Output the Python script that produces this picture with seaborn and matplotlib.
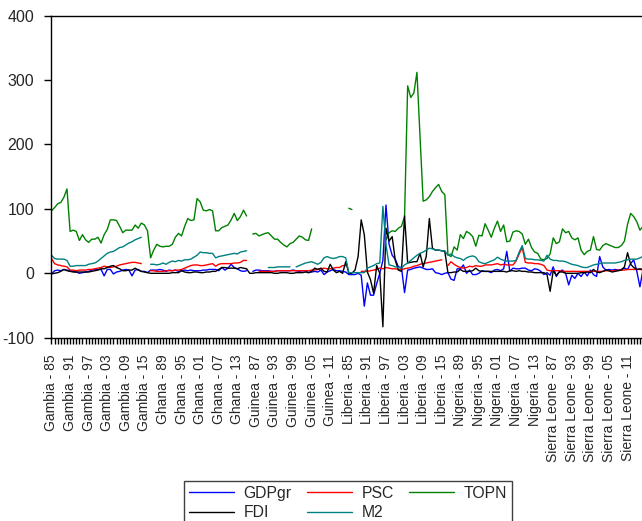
import numpy as np
import pandas as pd
import matplotlib
matplotlib.use("Agg")
import matplotlib.pyplot as plt
import seaborn as sns
from matplotlib.lines import Line2D

nan = np.nan

COUNTRIES = ["Gambia", "Ghana", "Guinea", "Liberia", "Nigeria", "Sierra Leone"]
YEARS = list(range(1985, 2017))

# --- series values, one block of 32 years per country (1985-2016) ---
GDPGR = (
    [-1, 4, 5, 4, 6, 5, 4, 3, 2, 0, 1, 2, 3, 5, 6, 6, 6, -4, 6, 6, -1, 2, 3, 5, 6, 5, -4, 5, 6, 3, 3, 1]            # Gambia
    + [5, 5, 5, 6, 5, 3, 5, 4, 5, 3, 4, 5, 4, 5, 4, 4, 4, 5, 5, 6, 6, 6, 4, 9, 5, 8, 14, 9, 7, 4, 3, 4]            # Ghana
    + [nan, 3, 5, 5, 4, 4, 4, 3, 3, 4, 4, 4, 4, 4, 5, 4, 3, 4, 4, 1, 2, 3, 2, 5, -2, 2, 4, 6, 4, 4, 3, 2]          # Guinea
    + [-2, -2, -2, 0, -3, -51, -15, -34, -34, -16, 0, 20, 106, 45, 28, 22, 10, 9, -30, 5,
       6, 8, 9, 10, 8, 6, 6, 7, 1, 0, -2, 0]                                                                        # Liberia
    + [1, -9, -11, 7, 7, 13, 0, 5, -2, -2, 0, 4, 3, 3, 1, 5, 6, 4, 7, 34, 3, 8, 7, 7, 8, 8, 5, 4, 7, 6, 3, -2]     # Nigeria
    + [1, -3, 10, -5, 3, 5, 0, -18, -3, -8, 0, -5, 2, -4, 5, -2, -5, 26, 10, 5, 6, 5, 6, 5, 6, 8, 6, 15, 21, 3, -21, 6]  # Sierra Leone
)

FDI = (
    [-1, 0, 1, 3, 6, 4, 3, 2, 2, 2, 2, 2, 2, 3, 4, 5, 7, 7, 9, 11, 12, 9, 7, 4, 4, 5, 5, 8, 5, 3, 2, 1]
    + [0, 0, 0, 0, 0, 0, 0, 1, 1, 1, 4, 2, 1, 1, 2, 2, 1, 1, 2, 2, 3, 3, 6, 9, 9, 8, 8, 8, 7, 9, 8, 7]
    + [0, 0, 1, 1, 1, 1, 1, 1, 0, 0, 1, 1, 1, 0, 0, 1, 1, 1, 2, 1, 3, 8, 6, 8, 3, 2, 14, 5, 1, 3, 0, 18]
    + [0, 0, 5, 26, 83, 60, 2, -10, -31, 12, 0, -83, 70, 50, 57, 20, 5, 3, 89, 16,
       17, 18, 18, 31, 10, 26, 85, 39, 36, 36, 35, 34]
    + [1, 1, 2, 2, 6, 3, 3, 3, 4, 8, 4, 3, 3, 3, 3, 3, 3, 3, 3, 2, 4, 4, 3, 4, 3, 3, 2, 2, 1, 1, 1, 1]
    + [-2, -28, 4, -3, 2, 2, 0, 0, 0, 0, 0, 1, 1, 2, 1, 6, 2, 1, 3, 5, 4, 2, 3, 4, 5, 10, 32, 14, 9, 6, 7, 6]
)

PSC = (
    [23, 15, 13, 12, 11, 10, 5, 5, 4, 5, 5, 5, 6, 6, 7, 8, 9, 11, 10, 9, 10, 11, 13, 14, 15, 16, 17, 17, 16, 15, nan, nan]
    + [4, 4, 3, 3, 3, 4, 4, 4, 5, 5, 6, 8, 10, 12, 13, 13, 12, 12, 13, 14, 15, 11, 14, 15, 15, 15, 15, 16, 16, 17, 20, 20]
    + [nan, nan, nan, 3, 3, 3, 3, 3, 3, 4, 4, 4, 4, 4, 4, 4, 4, 4, 4, 4, 5, 5, 6, 7, 8, 7, 7, 8, 9, 9, 12, 12]
    + [nan, nan, nan, nan, 3, 3, 3, 4, 5, 6, 8, 7, 9, 8, 7, 7, 6, 6, 7, 8, 9, 11, 12, 14, 15, 16, 17, 18, 19, 20, 21, nan]
    + [12, 18, 14, 11, 9, 8, 9, 11, 10, 12, 11, 11, 13, 13, 13, 14, 15, 13, 14, 13, 13, 13, 19, 30, 40, 17, 16, 16, 15, 15, 14, 12]
    + [5, 4, 4, 4, 4, 3, 3, 3, 3, 3, 3, 3, 3, 3, 3, 3, 3, 3, 3, 4, 4, 4, 4, 5, 5, 5, 6, 6, 6, 6, 6, 5]
)

M2 = (
    [28, 23, 22, 22, 22, 20, 11, 11, 12, 12, 12, 12, 14, 15, 16, 19, 23, 27, 31, 33, 34, 37, 40, 41, 44, 47, 49, 52, 54, 56, nan, nan]
    + [14, 14, 13, 14, 16, 14, 17, 19, 18, 20, 19, 21, 21, 22, 25, 28, 33, 32, 32, 31, 31, 24, 26, 27, 28, 29, 30, 31, 30, 33, 34, 35]
    + [nan, nan, nan, nan, nan, nan, 9, 9, 9, 10, 10, 10, 10, 10, nan, 10, 12, 14, 16, 17, 18, 16, 14, 17, 24, 26, 24, 23, 24, 26, 26, 24]
    + [1, 1, 1, 1, 1, 1, 8, 10, 12, 15, 16, 104, 44, 13, 12, 10, 9, 8, 13, 16, 20, 24, 28, 31, 33, 36, 39, 38, 36, 36, 35, 35]
    + [28, 30, 26, 24, 23, 20, 24, 26, 27, 25, 18, 16, 15, 17, 19, 21, 25, 22, 20, 19, 19, 19, 20, 33, 43, 23, 22, 22, 21, 21, 20, 19]
    + [28, 22, 20, 20, 19, 19, 18, 16, 14, 13, 12, 10, 9, 9, 11, 13, 14, 15, 16, 16, 16, 16, 16, 17, 18, 20, 21, 22, 22, 22, 24, 26]
)

TOPN = (
    [97, 102, 108, 110, 118, 131, 65, 67, 65, 51, 60, 52, 48, 53, 53, 56, 47, 60, 68, 83, 83, 82, 73, 63, 67, 67, 67, 75, 70, 78, 75, 66]
    + [24, 36, 45, 42, 41, 42, 42, 45, 56, 62, 58, 73, 85, 82, 83, 116, 111, 98, 97, 99, 97, 66, 66, 71, 73, 75, 83, 93, 82, 88, 98, 89]
    + [nan, 61, 62, 58, 60, 62, 63, 58, 53, 53, 48, 44, 41, 46, 48, 53, 58, 56, 52, 51, 69,
       nan, nan, nan, nan, nan, nan, nan, nan, nan, nan, nan]
    + [101, 99, nan, nan, nan, nan, nan, nan, nan, nan, nan, nan, 52, 63, 66, 65, 70, 73, 88, 291,
       273, 280, 312, 212, 112, 114, 119, 127, 133, 138, 127, 122]
    + [29, 26, 41, 36, 60, 54, 65, 62, 57, 42, 59, 58, 77, 67, 56, 70, 81, 65, 75, 49, 50, 64, 66, 65, 61, 45, 53, 40, 33, 31, 22, 21]
    + [23, 30, 55, 46, 49, 69, 63, 65, 55, 52, 55, 36, 29, 34, 36, 57, 37, 36, 43, 46, 44, 42, 40, 40, 43, 50, 76, 93, 88, 80, 67, 73]
)

SERIES_NAMES = ["GDPgr", "PSC", "TOPN", "FDI", "M2"]
SERIES_VALUES = [GDPGR, PSC, TOPN, FDI, M2]
COLORS = {"GDPgr": "#0000FF", "PSC": "#FF0000", "TOPN": "#008000", "FDI": "#000000", "M2": "#008080"}

TICK_LABELS = [f"{c} - {y % 100:02d}" for c in COUNTRIES for y in YEARS]

# --- long table with segment ids so that gaps (NaN) stay as gaps ---
rows = []
for name, vals in zip(SERIES_NAMES, SERIES_VALUES):
    seg = 0
    for i, v in enumerate(vals):
        if v is None or (isinstance(v, float) and np.isnan(v)):
            seg += 1
            continue
        rows.append({"obs": i, "value": v, "series": name, "seg": seg})
df = pd.DataFrame(rows)

sns.set_theme(style="ticks")
plt.rcParams["font.family"] = ["Liberation Sans", "DejaVu Sans"]

fig = plt.figure(figsize=(6.42, 5.21), dpi=100)
x0, x1 = -0.2, 191.4
pxu = 3.097
left_px = 51.5 + x0 * pxu
width_px = (x1 - x0) * pxu
ax = fig.add_axes([left_px / 642, 1 - 337.7 / 521, width_px / 642, 322 / 521])

sns.lineplot(data=df, x="obs", y="value", hue="series", units="seg", estimator=None,
             hue_order=SERIES_NAMES, palette=COLORS, linewidth=1.0, legend=False, ax=ax)

ax.set_xlim(x0, x1)
ax.set_ylim(-100, 400)
ax.set_yticks([-100, 0, 100, 200, 300, 400])
ax.set_yticklabels(["-100", "0", "100", "200", "300", "400"])
ax.set_xticks(list(range(0, len(TICK_LABELS), 6)))
ax.set_xticklabels([TICK_LABELS[i] for i in range(0, len(TICK_LABELS), 6)], rotation=90)
ax.set_xticks(list(range(len(TICK_LABELS))), minor=True)
ax.tick_params(axis="x", which="both", direction="out", length=4, width=1, color="black",
               bottom=True, labelsize=10.0, pad=8)
ax.tick_params(axis="y", which="both", direction="out", length=5, width=1, color="black",
               left=True, labelsize=11.5, pad=7)
ax.set_xlabel("")
ax.set_ylabel("")
for s in ax.spines.values():
    s.set_visible(True)
    s.set_color("black")
    s.set_linewidth(1.0)
ax.grid(False)

order = ["GDPgr", "FDI", "PSC", "M2", "TOPN"]
handles = [Line2D([0], [0], color=COLORS[n], lw=1.0) for n in order]
leg = fig.legend(handles, order, loc="upper center", bbox_to_anchor=(348 / 642, 1 - 481 / 521),
                 ncol=3, frameon=True, fancybox=False, edgecolor="#404040", framealpha=1,
                 fontsize=11.3, handlelength=2.85, handletextpad=0.65, columnspacing=0.95,
                 labelspacing=0.3, borderpad=0.3, borderaxespad=0)
leg.get_frame().set_linewidth(1.0)

fig.savefig("out.png", dpi=100)
